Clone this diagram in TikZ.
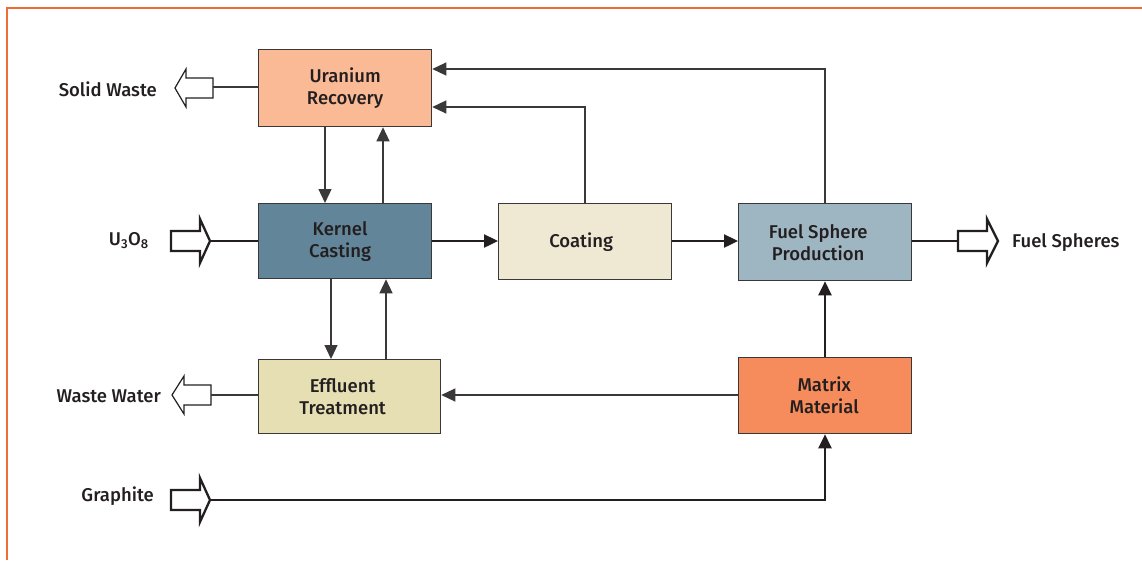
\documentclass[tikz,border=0pt]{standalone}
\usepackage{fontspec}
\setmainfont{Fira Sans}[UprightFont=* Medium]
\usetikzlibrary{arrows.meta}
\definecolor{frameorange}{HTML}{F26B35}
\definecolor{txt}{HTML}{231F20}
\definecolor{bord}{HTML}{3A3838}
\definecolor{urfill}{HTML}{FBBA96}
\definecolor{kcfill}{HTML}{628599}
\definecolor{cofill}{HTML}{EFE9D3}
\definecolor{fsfill}{HTML}{9EB5C2}
\definecolor{effill}{HTML}{E6DFB4}
\definecolor{mmfill}{HTML}{F68C5B}
\tikzset{
  box/.style={draw=bord, line width=1.3pt, inner sep=0pt, anchor=north west},
  thin/.style={draw=bord, line width=1.3pt},
  thick/.style={draw=txt, line width=2.4pt},
  tip/.style={-{Triangle[length=14pt,width=13pt]}},
  lab/.style={text=txt, font=\fontsize{18.5}{22}\selectfont, inner sep=0pt, align=center},
  hollowthin/.style={draw=txt, fill=white, line width=1.2pt, line join=miter},
  hollowthick/.style={draw=txt, fill=white, line width=2.3pt, line join=miter},
}
\begin{document}
\begin{tikzpicture}[x=1pt,y=-1pt]
\useasboundingbox (0,0) rectangle (1142,560);
% frame
\draw[frameorange, line width=2.2pt] (7,560) -- (7,8) -- (1142,8);

% boxes
\node[box, fill=urfill, minimum width=173pt, minimum height=77pt,
  label={[lab]center:Uranium\\Recovery}] (ur) at (258,49) {};
\node[box, fill=kcfill, minimum width=173pt, minimum height=75pt,
  label={[lab,xshift=-5pt]center:Kernel\\Casting}] (kc) at (258,203) {};
\node[box, fill=cofill, minimum width=173pt, minimum height=76pt,
  label={[lab,xshift=-4pt]center:Coating}] (co) at (498,203) {};
\node[box, fill=fsfill, minimum width=173pt, minimum height=77pt,
  label={[lab,xshift=-7pt]center:Fuel Sphere\\Production}] (fs) at (738,203) {};
\node[box, fill=effill, minimum width=182pt, minimum height=74pt,
  label={[lab,xshift=-7pt]center:Effluent\\Treatment}] (ef) at (258,359) {};
\node[box, fill=mmfill, minimum width=173pt, minimum height=76pt,
  label={[lab,xshift=-1pt]center:Matrix\\Material}] (mm) at (738,357) {};

% side labels
\node[lab, anchor=east] (swl) at (157,89) {Solid Waste};
\node[lab, anchor=east] (uol) at (149,241) {U\textsubscript{3}O\textsubscript{8}};
\node[lab, anchor=east] (wwl) at (161,396) {Waste Water};
\node[lab, anchor=east] (grl) at (154,496) {Graphite};
\node[lab, anchor=west] (fsl) at (1012,243) {Fuel Spheres};

% hollow arrows
\draw[hollowthin] (213,78) -- (186,78) -- (186,69) -- (175,88) -- (186,107) -- (186,98) -- (213,98) -- cycle;
\coordinate (swt) at (213,87);
\draw[hollowthick] (171,231) -- (200,231) -- (200,219) -- (210,241) -- (200,263) -- (200,251) -- (171,251) -- cycle;
\coordinate (uot) at (210,241);
\draw[hollowthin] (211,385) -- (184,385) -- (184,376) -- (172,395) -- (184,414) -- (184,405) -- (211,405) -- cycle;
\coordinate (wwt) at (211,395);
\draw[hollowthick] (171,490) -- (200,490) -- (200,478) -- (210,500) -- (200,522) -- (200,510) -- (171,510) -- cycle;
\coordinate (grt) at (210,500);
\draw[hollowthick] (958,231) -- (987,231) -- (987,219) -- (998,241) -- (987,263) -- (987,251) -- (958,251) -- cycle;
\coordinate (fst) at (958,241);

% outer connectors
\draw[thin] (ur.west |- swt) -- (swt);
\draw[thick] (uot) -- (kc.west |- uot);
\draw[thin] (ef.west |- wwt) -- (wwt);
\draw[thick] (fs.east |- fst) -- (fst);
\draw[thick, tip] (grt) -- (825,500) -- (mm.south -| 825,0);

% internal connectors
\draw[thin, tip] (ur.south -| 325,0) -- (kc.north -| 325,0);
\draw[thin, tip] (kc.north -| 383,0) -- (ur.south -| 383,0);
\draw[thick, tip] (kc.east |- 0,241) -- (co.west |- 0,241);
\draw[thick, tip] (co.east |- 0,241) -- (fs.west |- 0,241);
\draw[thin, tip] (co.north -| 585,0) -- (585,107) -- (ur.east |- 0,107);
\draw[thin, tip] (fs.north -| 825,0) -- (825,69) -- (ur.east |- 0,69);
\draw[thin, tip] (kc.south -| 331,0) -- (ef.north -| 331,0);
\draw[thin, tip] (ef.north -| 386,0) -- (kc.south -| 386,0);
\draw[thin, tip] (mm.west |- 0,395) -- (ef.east |- 0,395);
\draw[thick, tip] (mm.north -| 825,0) -- (fs.south -| 825,0);
\end{tikzpicture}
\end{document}
